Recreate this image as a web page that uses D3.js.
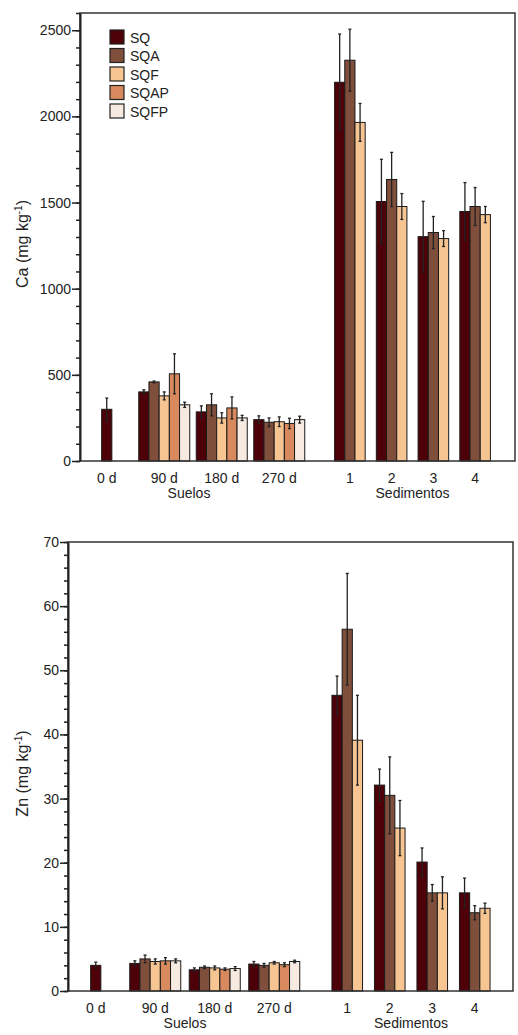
<!DOCTYPE html>
<html>
<head>
<meta charset="utf-8">
<script src="https://cdn.jsdelivr.net/npm/d3@7"></script>
<style>
  body { margin: 0; background: #fff; }
  svg { font-family: "Liberation Sans", Arial, sans-serif; }
  .axis text { font-size: 14px; fill: #222; }
  .axis path, .axis line { stroke: #222; }
</style>
</head>
<body>
<script>
var width = 518;
var height = 1035;

// series and colours
var series = ["SQ", "SQA", "SQF", "SQAP", "SQFP"];
var colors = ["#4d0008", "#7f4f3c", "#f6c592", "#d88a5e", "#f7ebe1"];

// categories
var suelosCats = ["0 d", "90 d", "180 d", "270 d"];
var sedCats = ["1", "2", "3", "4"];

// Ca (mg/kg) - mean, error. null = not measured
var caSuelos = [
  [300, null, null, null, null],
  [401, 459, 378, 506, 326],
  [285, 326, 250, 308, 250],
  [240, 225, 228, 218, 240]
];
var caSuelosErr = [
  [65, 0, 0, 0, 0],
  [12, 5, 23, 116, 15],
  [35, 64, 30, 64, 15],
  [22, 25, 28, 30, 20]
];
var caSed = [
  [2198, 2326, 1965],
  [1506, 1634, 1477],
  [1302, 1326, 1291],
  [1448, 1477, 1430]
];
var caSedErr = [
  [280, 180, 110],
  [245, 157, 75],
  [205, 93, 46],
  [168, 110, 47]
];

// Zn (mg/kg)
var znSuelos = [
  [4.0, null, null, null, null],
  [4.3, 5.0, 4.6, 4.7, 4.7],
  [3.3, 3.7, 3.6, 3.4, 3.5],
  [4.2, 4.0, 4.4, 4.1, 4.6]
];
var znSuelosErr = [
  [0.5, 0, 0, 0, 0],
  [0.4, 0.6, 0.4, 0.5, 0.3],
  [0.3, 0.2, 0.3, 0.2, 0.3],
  [0.4, 0.3, 0.2, 0.3, 0.2]
];
var znSed = [
  [46.1, 56.4, 39.1],
  [32.1, 30.5, 25.4],
  [20.1, 15.3, 15.3],
  [15.3, 12.2, 12.9]
];
var znSedErr = [
  [3.0, 8.7, 7.0],
  [2.5, 6.0, 4.3],
  [2.2, 1.3, 2.5],
  [2.3, 1.1, 0.8]
];

var svg = d3.select("body").append("svg")
    .attr("width", width)
    .attr("height", height);

var barW = 10.2;

function drawPanel(cfg) {
  var g = svg.append("g");

  var y = d3.scaleLinear().domain([0, cfg.ymax]).range([cfg.bottom, cfg.top]);
  var xS = d3.scaleBand().domain(suelosCats).range(cfg.suelosRange);
  var xD = d3.scaleBand().domain(sedCats).range(cfg.sedRange);

  // bars for a block of categories
  function drawBlock(scale, cats, vals, errs) {
    cats.forEach(function(c, i) {
      var items = [];
      vals[i].forEach(function(v, j) {
        if (v !== null) items.push({ v: v, e: errs[i][j], s: j });
      });
      var cx = scale(c) + scale.bandwidth() / 2;
      var x0 = cx - items.length * barW / 2;
      var grp = g.append("g");
      grp.selectAll("rect").data(items).enter().append("rect")
        .attr("x", function(d, k) { return x0 + k * barW; })
        .attr("y", function(d) { return y(d.v); })
        .attr("width", barW)
        .attr("height", function(d) { return y(0) - y(d.v); })
        .attr("fill", function(d) { return colors[d.s]; })
        .attr("stroke", "#1a1a1a")
        .attr("stroke-width", 1);
      var eb = grp.selectAll("g.err").data(items.filter(function(d) { return d.e > 0; }))
        .enter().append("g").attr("class", "err");
      eb.append("line")
        .attr("x1", function(d) { return x0 + items.indexOf(d) * barW + barW / 2; })
        .attr("x2", function(d) { return x0 + items.indexOf(d) * barW + barW / 2; })
        .attr("y1", function(d) { return y(d.v - d.e); })
        .attr("y2", function(d) { return y(d.v + d.e); })
        .attr("stroke", "#222").attr("stroke-width", 1.3);
      [1, -1].forEach(function(sgn) {
        eb.append("line")
          .attr("x1", function(d) { return x0 + items.indexOf(d) * barW + barW / 2 - 1.5; })
          .attr("x2", function(d) { return x0 + items.indexOf(d) * barW + barW / 2 + 1.5; })
          .attr("y1", function(d) { return y(d.v + sgn * d.e); })
          .attr("y2", function(d) { return y(d.v + sgn * d.e); })
          .attr("stroke", "#222").attr("stroke-width", 1.3);
      });
    });
  }

  drawBlock(xS, suelosCats, cfg.suelos, cfg.suelosErr);
  drawBlock(xD, sedCats, cfg.sed, cfg.sedErr);

  // frame
  g.append("rect")
    .attr("x", cfg.left).attr("y", cfg.top)
    .attr("width", cfg.right - cfg.left).attr("height", cfg.bottom - cfg.top)
    .attr("fill", "none").attr("stroke", "#333").attr("stroke-width", 1.5);

  // y axis - minor then major ticks
  g.append("g").attr("class", "axis")
    .attr("transform", "translate(" + cfg.left + ",0)")
    .call(d3.axisLeft(y).tickValues(d3.range(0, cfg.ymax + 0.001, cfg.minor)).tickSize(4).tickFormat(""))
    .call(function(a) { a.select(".domain").remove(); })
    .selectAll("line").attr("stroke-width", 1.5);
  g.append("g").attr("class", "axis")
    .attr("transform", "translate(" + cfg.left + ",0)")
    .call(d3.axisLeft(y).tickValues(d3.range(0, cfg.ymax + 0.001, cfg.major))
      .tickFormat(d3.format("d")).tickSize(8).tickSizeOuter(0).tickPadding(1))
    .call(function(a) { a.select(".domain").attr("stroke-width", 2); })
    .selectAll("line").attr("stroke-width", 1.5);

  // category labels
  g.selectAll("text.cs").data(suelosCats).enter().append("text")
    .attr("x", function(d) { return xS(d) + xS.bandwidth() / 2; })
    .attr("y", cfg.bottom + 22)
    .attr("text-anchor", "middle").attr("font-size", 14).attr("fill", "#222")
    .text(function(d) { return d; });
  g.selectAll("text.cd").data(sedCats).enter().append("text")
    .attr("x", function(d) { return xD(d) + xD.bandwidth() / 2; })
    .attr("y", cfg.bottom + 22)
    .attr("text-anchor", "middle").attr("font-size", 14).attr("fill", "#222")
    .text(function(d) { return d; });

  var sMid = (xS(suelosCats[0]) + xS(suelosCats[3]) + xS.bandwidth()) / 2 - cfg.sShift;
  var dMid = (xD(sedCats[0]) + xD(sedCats[3]) + xD.bandwidth()) / 2;
  g.append("text").attr("x", sMid).attr("y", cfg.bottom + 37)
    .attr("text-anchor", "middle").attr("font-size", 14).attr("fill", "#222").text("Suelos");
  g.append("text").attr("x", dMid).attr("y", cfg.bottom + 37)
    .attr("text-anchor", "middle").attr("font-size", 14).attr("fill", "#222").text("Sedimentos");

  // y label
  var lab = g.append("text")
    .attr("transform", "translate(" + 28 + "," + ((cfg.top + cfg.bottom) / 2 + 7) + ")rotate(-90)")
    .attr("text-anchor", "middle").attr("font-size", 16).attr("fill", "#222");
  lab.append("tspan").text(cfg.label + " (mg kg");
  lab.append("tspan").attr("dy", -6).attr("font-size", 10).text("-1");
  lab.append("tspan").attr("dy", 6).text(")");
}

drawPanel({
  left: 80, right: 515, top: 13, bottom: 461, ymax: 2600, major: 500, minor: 100,
  suelosRange: [78, 308], sedRange: [329, 496], label: "Ca", sShift: 4,
  suelos: caSuelos, suelosErr: caSuelosErr, sed: caSed, sedErr: caSedErr
});

drawPanel({
  left: 68, right: 513, top: 542, bottom: 991, ymax: 70, major: 10, minor: 2,
  suelosRange: [66, 304], sedRange: [326, 496], label: "Zn", sShift: 0,
  suelos: znSuelos, suelosErr: znSuelosErr, sed: znSed, sedErr: znSedErr
});

// legend
var legend = svg.append("g").attr("transform", "translate(110,30)");
var rows = legend.selectAll("g").data(series).enter().append("g")
  .attr("transform", function(d, i) { return "translate(0," + i * 18.5 + ")"; });
rows.append("rect")
  .attr("width", 14).attr("height", 14)
  .attr("fill", function(d, i) { return colors[i]; })
  .attr("stroke", "#222").attr("stroke-width", 1.2);
rows.append("text")
  .attr("x", 20).attr("y", 12.5)
  .attr("font-size", 14).attr("fill", "#222")
  .text(function(d) { return d; });
</script>
</body>
</html>
